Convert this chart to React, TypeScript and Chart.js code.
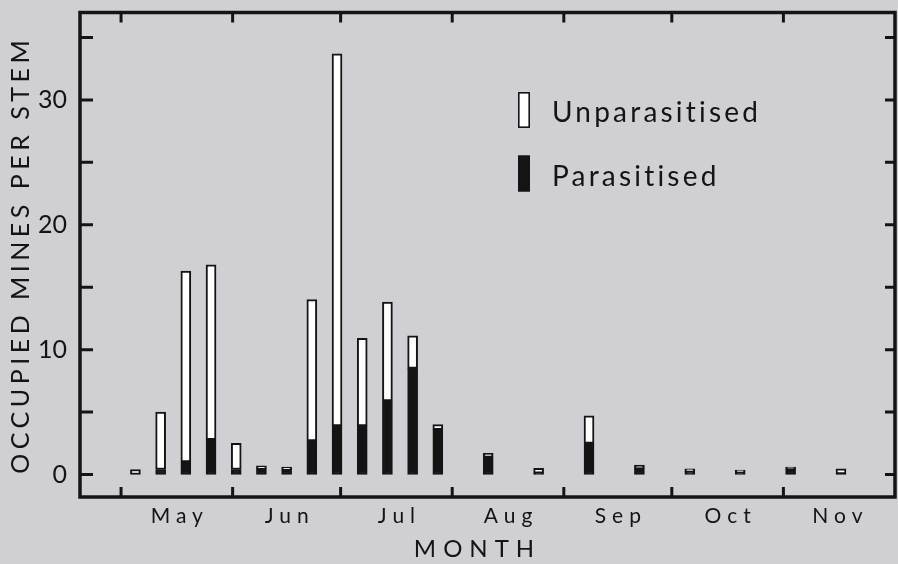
import React, { useEffect, useRef } from 'react';
import { Chart, registerables } from 'chart.js';

Chart.register(...registerables);

// Sampling dates, expressed as days after 1 May
const sampleDays = [4, 11, 18, 25, 32, 39, 46, 53, 60, 67, 74, 81, 88, 102, 116, 130, 144, 158, 172, 186, 200];
// Occupied mines per stem
const parasitised = [0, 0.4, 1.0, 2.8, 0.4, 0.45, 0.35, 2.7, 3.9, 3.9, 5.9, 8.5, 3.6, 1.4, 0.1, 2.5, 0.45, 0.25, 0.2, 0.45, 0.05];
const unparasitised = [0.4, 4.6, 15.3, 14.0, 2.1, 0.25, 0.25, 11.3, 29.8, 7.0, 7.9, 2.6, 0.4, 0.3, 0.4, 2.2, 0.3, 0.2, 0.15, 0.15, 0.4];

const monthLabels = ['May', 'Jun', 'Jul', 'Aug', 'Sep', 'Oct', 'Nov'];
const monthStartDays = [0, 31, 61, 92, 123, 153, 184];
const monthLengths = [31, 30, 31, 31, 30, 31, 30];
const yTickValues = [0, 5, 10, 15, 20, 25, 30, 35];

const FONT = 'Lato, "DejaVu Sans", sans-serif';
const INK = '#141414';
const BG = '#d0d0d4';

function patchScale(scale: any, labelSpacing: string, labelShift: number, titleSpacing: string, titleShift: number) {
  if (!scale || scale.__patched) return;
  scale.__patched = true;
  const origLabels = scale.drawLabels.bind(scale);
  const origTitle = scale.drawTitle.bind(scale);
  scale.drawLabels = (area: any) => {
    const ctx = scale.ctx;
    ctx.save();
    (ctx as any).letterSpacing = labelSpacing;
    if (scale.isHorizontal()) ctx.translate(labelShift, 0);
    origLabels(area);
    ctx.restore();
  };
  scale.drawTitle = (area: any) => {
    const ctx = scale.ctx;
    ctx.save();
    (ctx as any).letterSpacing = titleSpacing;
    if (scale.isHorizontal()) ctx.translate(titleShift, 0);
    else ctx.translate(0, titleShift);
    origTitle(area);
    ctx.restore();
  };
}

const spacingPlugin = {
  id: 'spacing',
  beforeDraw(chart: any) {
    patchScale(chart.scales.x, '6px', 3, '7px', -10);
    patchScale(chart.scales.y, '0px', 0, '4.5px', 0);
  },
};

const framePlugin = {
  id: 'frame',
  afterDraw(chart: any) {
    const { ctx, chartArea } = chart;
    const { left, right, top, bottom } = chartArea;
    const xs = chart.scales.x;
    const ys = chart.scales.y;
    ctx.save();
    ctx.strokeStyle = INK;
    ctx.lineWidth = 3.5;
    ctx.lineJoin = 'miter';
    ctx.strokeRect(left, top, right - left, bottom - top);
    ctx.lineWidth = 3;
    ctx.beginPath();
    yTickValues.forEach((v) => {
      const py = ys.getPixelForValue(v);
      ctx.moveTo(left, py);
      ctx.lineTo(left + 13, py);
      ctx.moveTo(right, py);
      ctx.lineTo(right - 10, py);
    });
    monthStartDays.forEach((d) => {
      const px = xs.getPixelForValue(d);
      ctx.moveTo(px, top);
      ctx.lineTo(px, top + 10);
      ctx.moveTo(px, bottom);
      ctx.lineTo(px, bottom - 10);
    });
    ctx.stroke();
    ctx.restore();
  },
};

const legendPlugin = {
  id: 'insideLegend',
  afterDraw(chart: any) {
    const { ctx, chartArea } = chart;
    const items = [...chart.data.datasets].reverse();
    ctx.save();
    items.forEach((ds: any, i: number) => {
      const cy = chartArea.top + 97.5 + i * 63.5;
      const bx = chartArea.left + 438;
      ctx.fillStyle = ds.backgroundColor;
      ctx.fillRect(bx, cy - 18, 12, 36);
      ctx.strokeStyle = ds.borderColor;
      ctx.lineWidth = 1.6;
      ctx.strokeRect(bx + 0.8, cy - 17.2, 10.4, 34.4);
      ctx.fillStyle = INK;
      ctx.font = `28px ${FONT}`;
      (ctx as any).letterSpacing = '3.2px';
      ctx.textBaseline = 'middle';
      ctx.textAlign = 'left';
      ctx.fillText(ds.label, chartArea.left + 472, cy + 3);
    });
    ctx.restore();
  },
};

export default function App() {
  const ref = useRef<HTMLCanvasElement | null>(null);

  useEffect(() => {
    document.body.style.margin = '0';
    document.body.style.background = BG;
    const canvas = ref.current;
    if (!canvas) return;
    const chart = new Chart(canvas, {
      type: 'bar',
      data: {
        datasets: [
          {
            label: 'Parasitised',
            data: sampleDays.map((d, i) => ({ x: d, y: parasitised[i] })),
            backgroundColor: INK,
            borderColor: INK,
            borderWidth: 2,
            borderSkipped: false,
            barThickness: 10,
            stack: 'mines',
          },
          {
            label: 'Unparasitised',
            data: sampleDays.map((d, i) => ({ x: d, y: unparasitised[i] })),
            backgroundColor: '#ffffff',
            borderColor: INK,
            borderWidth: 2,
            borderSkipped: false,
            barThickness: 10,
            stack: 'mines',
          },
        ],
      } as any,
      options: {
        animation: false,
        responsive: false,
        devicePixelRatio: 1,
        layout: { padding: { top: 12.5, right: 3, left: 0, bottom: 0 } },
        plugins: { legend: { display: false }, tooltip: { enabled: false } },
        scales: {
          x: {
            type: 'linear',
            stacked: true,
            offset: false,
            min: -11.4,
            max: 215,
            grid: { display: false, drawTicks: false, offset: false },
            border: { display: false },
            afterBuildTicks: (s: any) => {
              s.ticks = monthStartDays.map((d, i) => ({ value: d + monthLengths[i] / 2 }));
            },
            ticks: {
              autoSkip: false,
              maxRotation: 0,
              minRotation: 0,
              padding: 7,
              color: INK,
              font: { family: FONT, size: 21 },
              callback: (_v: any, i: number) => monthLabels[i],
            },
            title: {
              display: true,
              text: 'MONTH',
              color: INK,
              font: { family: FONT, size: 24 },
              padding: 0,
            },
            afterFit: (s: any) => {
              s.height = 67;
              s.paddingLeft = 0;
              s.paddingRight = 0;
            },
          },
          y: {
            stacked: true,
            min: -1.8,
            max: 37,
            grid: { display: false, drawTicks: false },
            border: { display: false },
            afterBuildTicks: (s: any) => {
              s.ticks = yTickValues.map((v) => ({ value: v }));
            },
            ticks: {
              padding: 13,
              color: INK,
              font: { family: FONT, size: 25 },
              callback: (v: any) => (Number(v) % 10 === 0 ? String(v) : ''),
            },
            title: {
              display: true,
              text: 'OCCUPIED MINES PER STEM',
              color: INK,
              font: { family: FONT, size: 25 },
              padding: { top: 6, bottom: 0 },
            },
            afterFit: (s: any) => {
              s.width = 80;
              s.paddingTop = 0;
              s.paddingBottom = 0;
            },
          },
        },
      } as any,
      plugins: [spacingPlugin, framePlugin, legendPlugin],
    });
    return () => chart.destroy();
  }, []);

  return (
    <div style={{ width: 898, height: 564, background: BG }}>
      <canvas ref={ref} width={898} height={564} style={{ display: 'block' }} />
    </div>
  );
}
